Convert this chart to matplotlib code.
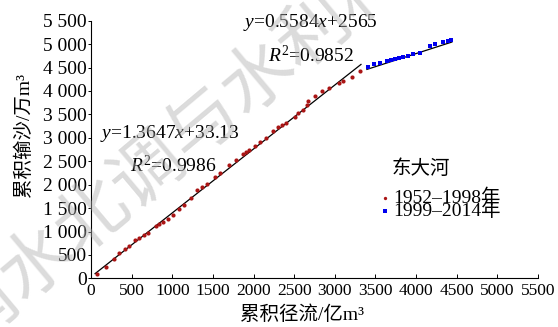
import numpy as np
import matplotlib
matplotlib.use("Agg")
import matplotlib.pyplot as plt
from matplotlib.ticker import FuncFormatter

plt.rcParams['font.family'] = ['Liberation Serif', 'Noto Sans CJK SC']
plt.rcParams['mathtext.fontset'] = 'custom'
plt.rcParams['mathtext.rm'] = 'Liberation Serif'
plt.rcParams['mathtext.it'] = 'Liberation Serif:italic'

# 1952-1998 cumulative runoff (亿m3) / cumulative sediment (万m3)
red_x = [70, 181, 287, 348, 414, 471, 541, 595, 652, 705, 800, 837, 882, 943, 1005, 1083,
         1148, 1226, 1305, 1362, 1423, 1526, 1587, 1702, 1784, 1867, 1907, 1944, 2018, 2080,
         2153, 2243, 2305, 2346, 2399, 2510, 2551, 2612, 2654, 2674, 2756, 2846, 2932, 3052,
         3097, 3208, 3310]
red_y = [100, 237, 420, 548, 627, 698, 820, 855, 926, 976, 1111, 1154, 1204, 1268, 1346, 1481,
         1573, 1716, 1880, 1957, 2008, 2171, 2256, 2420, 2527, 2655, 2690, 2740, 2825, 2904,
         2990, 3152, 3238, 3274, 3323, 3451, 3523, 3594, 3700, 3792, 3899, 3999, 4057, 4176,
         4219, 4291, 4426]
# 1999-2014
blue_x = [3405, 3484, 3560, 3638, 3690, 3740, 3790, 3845, 3904, 3966, 4050, 4171, 4228, 4330,
          4395, 4430]
blue_y = [4518, 4572, 4605, 4640, 4660, 4690, 4712, 4735, 4750, 4785, 4812, 4966, 4996, 5040,
          5060, 5087]

# fitted lines (from the equations printed on the chart)
fit1 = (1.3647, 33.13)
fit1_range = [50, 3322]
fit2 = (0.5584, 2565)
fit2_range = [3395, 4440]

ticks = list(range(0, 5501, 500))

fig = plt.figure(figsize=(5.58, 3.27), dpi=100)
ax = fig.add_axes([91/558, 1-278.4/327, 447/558, 257.7/327])

x1 = np.array(fit1_range)
x2 = np.array(fit2_range)
ax.plot(x1, fit1[0]*x1 + fit1[1], color='black', lw=0.9, zorder=2)
ax.plot(x2, fit2[0]*x2 + fit2[1], color='black', lw=0.9, zorder=2)
ax.scatter(red_x, red_y, s=9, marker='o', color='#aa1515', linewidths=0,
           label='1952–1998年', zorder=3)
ax.scatter(blue_x, blue_y, s=9, marker='s', color='#0000ee', linewidths=0,
           label='1999–2014年', zorder=3)

ax.set_xlim(0, 5500)
ax.set_ylim(0, 5500)
ax.set_xticks(ticks)
ax.set_yticks(ticks)
ax.yaxis.set_major_formatter(FuncFormatter(
    lambda v, p: f"{int(v):,}".replace(',', ' ')))
ax.spines['top'].set_visible(False)
ax.spines['right'].set_visible(False)
for s in ['left', 'bottom']:
    ax.spines[s].set_linewidth(0.8)
ax.tick_params(axis='x', direction='in', length=3, width=0.7, pad=3, labelsize=12.5)
ax.tick_params(axis='y', direction='out', length=2.5, width=0.7, pad=0.5, labelsize=14)

ax.set_xlabel('累积径流/亿m³', fontsize=14)
ax.set_ylabel('累积输沙/万m³', fontsize=14)
ax.xaxis.set_label_coords(0.472, -0.105)
ax.yaxis.set_label_coords(-0.13, 0.556)

ax.text(111, 3103, '$y$=1.3647$x$+33.13', fontsize=14, ha='left', va='center')
ax.text(480, 2420, '$R^2$=0.9986', fontsize=14, ha='left', va='center')
ax.text(1870, 5472, '$y$=0.5584$x$+2565', fontsize=14, ha='left', va='center')
ax.text(2178, 4767, '$R^2$=0.9852', fontsize=14, ha='left', va='center')
ax.text(4060, 2335, '东大河', fontsize=14, ha='center', va='center')

ax.legend(loc='upper left', bbox_to_anchor=(381/558, 1-189/327),
          bbox_transform=fig.transFigure, frameon=False, fontsize=14,
          handlelength=0.4, handletextpad=0.25, labelspacing=-0.3,
          borderpad=0, borderaxespad=0, markerscale=0.8)

# journal watermark
fig.text(204/558, 1-123/327, '南水北调与水利科技', fontsize=52, rotation=40,
         ha='center', va='center', color='#b0b0b0', alpha=0.45,
         family='Noto Sans CJK SC', zorder=10)

fig.savefig('out.png', dpi=100, facecolor='white')
